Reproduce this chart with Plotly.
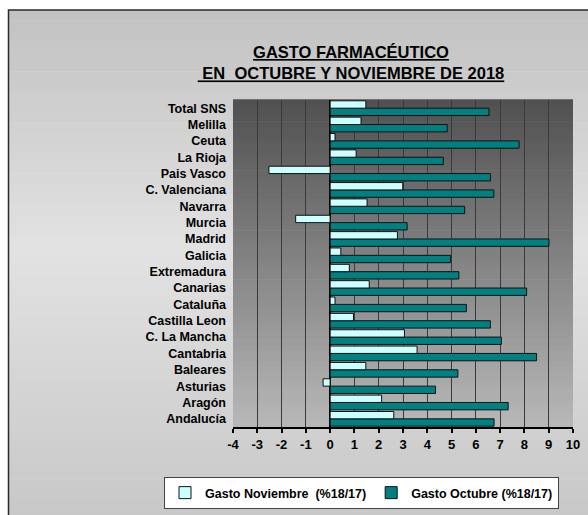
import plotly.graph_objects as go

categories = ["Andalucía", "Aragón", "Asturias", "Baleares", "Cantabria", "C. La Mancha",
              "Castilla Leon", "Cataluña", "Canarias", "Extremadura", "Galicia", "Madrid",
              "Murcia", "Navarra", "C. Valenciana", "Pais Vasco", "La Rioja", "Ceuta",
              "Melilla", "Total SNS"]
noviembre = [2.62, 2.12, -0.29, 1.47, 3.58, 3.06, 0.96, 0.2, 1.61, 0.79, 0.44, 2.77,
             -1.42, 1.52, 2.99, -2.52, 1.07, 0.2, 1.27, 1.47]
octubre = [6.75, 7.33, 4.34, 5.26, 8.5, 7.05, 6.6, 5.61, 8.09, 5.3, 4.96, 9.01,
           3.17, 5.54, 6.74, 6.6, 4.66, 7.78, 4.82, 6.54]
x_ticks = list(range(-4, 11))
x_tick_labels = [str(v) for v in x_ticks]
name_nov = "Gasto Noviembre  (%18/17)"
name_oct = "Gasto Octubre (%18/17)"
title_text = " GASTO FARMACÉUTICO<br> EN  OCTUBRE Y NOVIEMBRE DE 2018"

W, H = 588, 515
L, R, T, B = 233, 573, 100, 427
FONT = "Liberation Sans"


def px_x(px):
    return (px - L) / (R - L)


def px_y(py):
    return (B - py) / (B - T)


def lerp(c1, c2, t):
    return "rgb(%d,%d,%d)" % tuple(round(a + (b - a) * t) for a, b in zip(c1, c2))


shapes = []
# outer panel gradient (paper refs)
top_px, bot_px = 10, 520
n = 50
stops = [(10, (194, 194, 194)), (250, (226, 226, 226)), (520, (200, 200, 200))]
for i in range(n):
    y0p = top_px + (bot_px - top_px) * i / n
    y1p = top_px + (bot_px - top_px) * (i + 1) / n
    ym = (y0p + y1p) / 2
    if ym <= stops[1][0]:
        c = lerp(stops[0][1], stops[1][1], (ym - stops[0][0]) / (stops[1][0] - stops[0][0]))
    else:
        c = lerp(stops[1][1], stops[2][1], (ym - stops[1][0]) / (stops[2][0] - stops[1][0]))
    shapes.append(dict(type="rect", xref="paper", yref="paper", layer="below",
                       x0=px_x(8), x1=px_x(600), y0=px_y(y1p + 0.5), y1=px_y(y0p),
                       fillcolor=c, line=dict(width=0)))
shapes.append(dict(type="rect", xref="paper", yref="paper", layer="below",
                   x0=px_x(8.5), x1=px_x(600), y0=px_y(530), y1=px_y(10),
                   fillcolor="rgba(0,0,0,0)", line=dict(color="#2a2a2a", width=1.5)))
# plot area gradient (domain refs)
m = 60
for i in range(m):
    t = (i + 0.5) / m
    c = lerp((184, 184, 184), (80, 80, 80), t)
    shapes.append(dict(type="rect", xref="x domain", yref="y domain", layer="below",
                       x0=0, x1=1, y0=i / m, y1=(i + 1) / m + 0.002,
                       fillcolor=c, line=dict(width=0)))

fig = go.Figure()
fig.add_trace(go.Bar(y=categories, x=octubre, orientation="h", name=name_oct,
                     marker=dict(color="#008080", line=dict(color="#101010", width=1)),
                     legendrank=2))
fig.add_trace(go.Bar(y=categories, x=noviembre, orientation="h", name=name_nov,
                     marker=dict(color="#ccffff", line=dict(color="#101010", width=1)),
                     legendrank=1))

fig.update_layout(
    width=W, height=H,
    margin=dict(l=L, r=W - R, t=T, b=H - B, pad=0, autoexpand=False),
    paper_bgcolor="white", plot_bgcolor="rgba(0,0,0,0)",
    barmode="group", bargap=0.1, bargroupgap=0,
    shapes=shapes,
    font=dict(family=FONT, color="black"),
    title=dict(text=title_text, xref="container", yref="container",
               x=351 / W, y=1 - 58 / H, xanchor="center", yanchor="middle",
               font=dict(family=FONT, size=16.5, weight="bold", color="black",
                         lineposition="under")),
    showlegend=True,
    legend=dict(orientation="h", x=px_x(164), y=px_y(477), xanchor="left",
                yanchor="top", bgcolor="white", bordercolor="#444", borderwidth=1,
                font=dict(family=FONT, size=12.5, weight="bold", color="black"),
                traceorder="normal", itemclick=False),
    xaxis=dict(range=[-4, 10], tickvals=x_ticks, ticktext=x_tick_labels,
               showgrid=True, gridcolor="#3a3a3a",
               gridwidth=1, zeroline=True, zerolinecolor="black", zerolinewidth=2,
               showline=True, linecolor="black", linewidth=2, ticks="outside",
               ticklen=4, tickwidth=1.5, tickcolor="black",
               tickfont=dict(family=FONT, size=13, weight="bold", color="black")),
    yaxis=dict(showgrid=False, zeroline=False, showline=False, ticks="",
               ticklabelstandoff=6,
               tickfont=dict(family=FONT, size=12.5, weight="bold", color="black")),
)

fig.write_html("out.html")
